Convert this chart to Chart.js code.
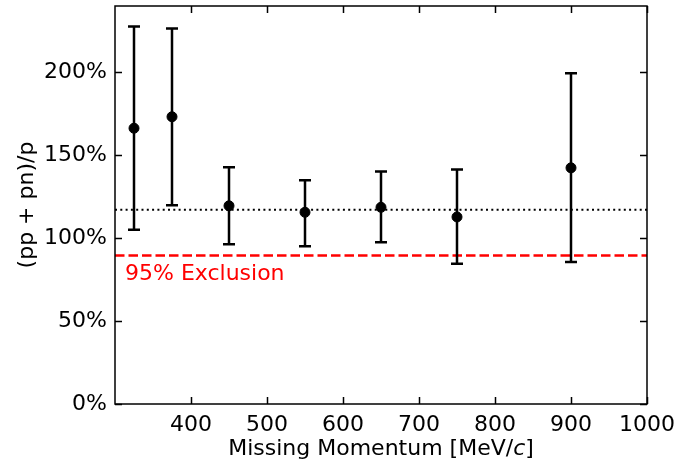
<!DOCTYPE html>
<html>
<head>
<meta charset="utf-8">
<script src="https://cdn.jsdelivr.net/npm/chart.js@4"></script>
<style>
  html, body { margin: 0; padding: 0; background: #fff; }
  #wrap { width: 697px; height: 463px; }
</style>
</head>
<body>
<div id="wrap"><canvas id="ratioChart"></canvas></div>
<script>
// data
const momentum = [325, 375, 450, 550, 650, 750, 900];
const ratio    = [166.3, 173.2, 119.5, 115.6, 118.6, 112.8, 142.4];
const ratioLow = [105.1, 119.8, 96.3, 95.1, 97.5, 84.6, 85.6];
const ratioHigh = [227.6, 226.4, 142.8, 134.9, 140.2, 141.4, 199.4];
const meanLevel = 117.2;
const exclusionLevel = 89.6;
const xTicks = [400, 500, 600, 700, 800, 900, 1000];
const yTicks = [0, 50, 100, 150, 200];

const FONT = "'DejaVu Sans', sans-serif";
const FS = 22;

// error bars + horizontal reference lines
const errorBarPlugin = {
    id: 'errorBars',
    beforeDatasetsDraw(chart) {
        const ctx = chart.ctx;
        const x = chart.scales.x, y = chart.scales.y;
        const area = chart.chartArea;

        ctx.save();
        // mean (dotted)
        ctx.strokeStyle = '#000';
        ctx.lineWidth = 2;
        ctx.setLineDash([2, 3.3]);
        ctx.beginPath();
        ctx.moveTo(area.left, y.getPixelForValue(meanLevel));
        ctx.lineTo(area.right, y.getPixelForValue(meanLevel));
        ctx.stroke();

        // exclusion (red dashed)
        ctx.strokeStyle = '#ff0000';
        ctx.lineWidth = 2.5;
        ctx.setLineDash([9.5, 4]);
        ctx.beginPath();
        ctx.moveTo(area.left, y.getPixelForValue(exclusionLevel));
        ctx.lineTo(area.right, y.getPixelForValue(exclusionLevel));
        ctx.stroke();
        ctx.setLineDash([]);

        ctx.fillStyle = '#ff0000';
        ctx.font = FS + 'px ' + FONT;
        ctx.textAlign = 'left';
        ctx.textBaseline = 'middle';
        ctx.fillText('95% Exclusion', area.left + 10, y.getPixelForValue(exclusionLevel) + 19);

        // error bars
        ctx.strokeStyle = '#000';
        ctx.lineWidth = 2.5;
        for (let i = 0; i < momentum.length; i++) {
            const px = x.getPixelForValue(momentum[i]);
            const top = y.getPixelForValue(ratioHigh[i]);
            const bot = y.getPixelForValue(ratioLow[i]);
            ctx.beginPath();
            ctx.moveTo(px, top); ctx.lineTo(px, bot);
            ctx.moveTo(px - 6, top); ctx.lineTo(px + 6, top);
            ctx.moveTo(px - 6, bot); ctx.lineTo(px + 6, bot);
            ctx.stroke();
        }
        ctx.restore();
    },
    afterDraw(chart) {
        const ctx = chart.ctx;
        const x = chart.scales.x, y = chart.scales.y;
        const area = chart.chartArea;
        ctx.save();
        ctx.strokeStyle = '#000';
        ctx.lineWidth = 1.5;
        ctx.strokeRect(area.left, area.top, area.right - area.left, area.bottom - area.top);

        // inward ticks on all four sides
        ctx.beginPath();
        xTicks.forEach(v => {
            const px = Math.round(x.getPixelForValue(v)) + 0.5;
            ctx.moveTo(px, area.bottom); ctx.lineTo(px, area.bottom - 7);
            ctx.moveTo(px, area.top); ctx.lineTo(px, area.top + 7);
        });
        yTicks.forEach(v => {
            const py = Math.round(y.getPixelForValue(v)) + 0.5;
            ctx.moveTo(area.left, py); ctx.lineTo(area.left + 7, py);
            ctx.moveTo(area.right, py); ctx.lineTo(area.right - 7, py);
        });
        ctx.stroke();

        // axis titles
        ctx.fillStyle = '#000';
        ctx.textBaseline = 'middle';
        const part1 = 'Missing Momentum [MeV/';
        const part3 = ']';
        ctx.font = FS + 'px ' + FONT;
        const w1 = ctx.measureText(part1).width;
        const w3 = ctx.measureText(part3).width;
        ctx.font = 'italic ' + FS + 'px ' + FONT;
        const w2 = ctx.measureText('c').width;
        const cx = (area.left + area.right) / 2;
        const sx = cx - (w1 + w2 + w3) / 2;
        const ty = 449;
        ctx.textAlign = 'left';
        ctx.font = FS + 'px ' + FONT;
        ctx.fillText(part1, sx, ty);
        ctx.font = 'italic ' + FS + 'px ' + FONT;
        ctx.fillText('c', sx + w1, ty);
        ctx.font = FS + 'px ' + FONT;
        ctx.fillText(part3, sx + w1 + w2, ty);

        ctx.translate(27, (area.top + area.bottom) / 2);
        ctx.rotate(-Math.PI / 2);
        ctx.textAlign = 'center';
        ctx.fillText('(pp + pn)/p', 0, 0);
        ctx.restore();
    }
};

document.addEventListener('DOMContentLoaded', function() {
    const ctx = document.getElementById('ratioChart');

    new Chart(ctx, {
        type: 'scatter',
        data: {
            datasets: [{
                label: '(pp + pn)/p',
                data: momentum.map((m, i) => ({ x: m, y: ratio[i] })),
                backgroundColor: '#000',
                borderColor: '#000',
                pointRadius: 5,
                pointHoverRadius: 5
            }]
        },
        options: {
            responsive: true,
            maintainAspectRatio: false,
            animation: false,
            layout: { padding: { top: 6, right: 50, left: 0, bottom: 0 } },
            plugins: {
                legend: { display: false },
                tooltip: { enabled: false }
            },
            scales: {
                x: {
                    type: 'linear',
                    min: 300,
                    max: 1000,
                    grid: { display: false, drawTicks: false },
                    border: { display: false },
                    afterBuildTicks: scale => { scale.ticks = xTicks.map(v => ({ value: v })); },
                    afterFit: scale => { scale.height = 59; scale.paddingLeft = 0; scale.paddingRight = 0; },
                    ticks: {
                        color: '#000',
                        padding: 8,
                        maxRotation: 0,
                        font: { family: FONT, size: FS },
                        callback: v => String(v)
                    }
                },
                y: {
                    min: 0,
                    max: 240,
                    grid: { display: false, drawTicks: false },
                    border: { display: false },
                    afterBuildTicks: scale => { scale.ticks = yTicks.map(v => ({ value: v })); },
                    afterFit: scale => { scale.width = 115; scale.paddingTop = 0; scale.paddingBottom = 0; },
                    ticks: {
                        color: '#000',
                        padding: 8,
                        font: { family: FONT, size: FS },
                        callback: v => v + '%'
                    }
                }
            }
        },
        plugins: [errorBarPlugin]
    });
});
</script>
</body>
</html>
